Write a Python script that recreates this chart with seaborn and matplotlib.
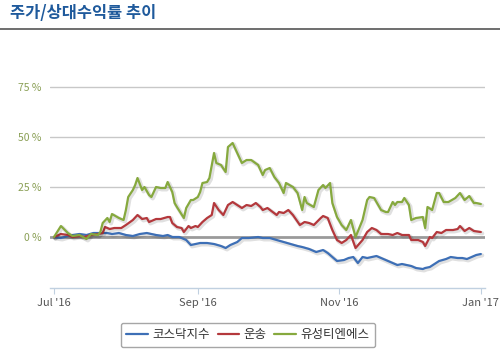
import numpy as np
import pandas as pd
import matplotlib
matplotlib.use("Agg")
import matplotlib.pyplot as plt
import matplotlib.patheffects as pe
import seaborn as sns

# 코스닥지수 (KOSDAQ index), relative return %
kosdaq_dates = ["2016-07-01", "2016-07-04", "2016-07-07", "2016-07-09", "2016-07-12", "2016-07-15",
                "2016-07-18", "2016-07-21", "2016-07-24", "2016-07-26", "2016-07-29", "2016-08-01",
                "2016-08-04", "2016-08-07", "2016-08-10", "2016-08-12", "2016-08-14", "2016-08-17",
                "2016-08-19", "2016-08-21", "2016-08-24", "2016-08-27", "2016-08-29", "2016-08-31",
                "2016-09-02", "2016-09-05", "2016-09-08", "2016-09-11", "2016-09-13", "2016-09-15",
                "2016-09-18", "2016-09-20", "2016-09-23", "2016-09-27", "2016-09-29", "2016-10-02",
                "2016-10-05", "2016-10-08", "2016-10-11", "2016-10-14", "2016-10-16", "2016-10-19",
                "2016-10-22", "2016-10-25", "2016-10-27", "2016-10-29", "2016-10-31", "2016-11-03",
                "2016-11-05", "2016-11-07", "2016-11-09", "2016-11-11", "2016-11-13", "2016-11-15",
                "2016-11-17", "2016-11-19", "2016-11-22", "2016-11-24", "2016-11-26", "2016-11-28",
                "2016-11-30", "2016-12-02", "2016-12-04", "2016-12-07", "2016-12-08", "2016-12-10",
                "2016-12-12", "2016-12-14", "2016-12-17", "2016-12-19", "2016-12-22", "2016-12-24",
                "2016-12-26", "2016-12-28", "2016-12-30", "2017-01-01"]
kosdaq_vals = [0, -0.5, 0.5, 1, 1.5, 1, 2, 2, 2, 1.5, 2, 1,
               0.5, 1.5, 2, 1.5, 1, 0.5, 1, 0, 0, -1.5, -4, -3.5,
               -3, -3, -3.5, -4.5, -5.5, -4, -2.5, -0.5, -0.5, 0, -0.5, -0.5,
               -1.5, -2.5, -3.5, -4.5, -5, -6, -7.5, -6.5, -8, -10, -12, -11.5,
               -10.5, -10, -13, -10, -10.5, -10, -9.5, -10.5, -12, -13, -14, -13.5,
               -14, -14.5, -15.5, -16, -15.5, -15, -13.5, -12, -11, -10, -10.5, -10.5,
               -11, -10, -9, -8.5]

# 운송 (transport sector)
transport_dates = ["2016-07-01", "2016-07-04", "2016-07-07", "2016-07-09", "2016-07-12", "2016-07-14",
                   "2016-07-17", "2016-07-20", "2016-07-22", "2016-07-23", "2016-07-25", "2016-07-27",
                   "2016-07-30", "2016-08-01", "2016-08-04", "2016-08-06", "2016-08-08", "2016-08-10",
                   "2016-08-11", "2016-08-14", "2016-08-16", "2016-08-19", "2016-08-20", "2016-08-21",
                   "2016-08-23", "2016-08-25", "2016-08-26", "2016-08-28", "2016-08-29", "2016-08-31",
                   "2016-09-01", "2016-09-03", "2016-09-05", "2016-09-07", "2016-09-08", "2016-09-10",
                   "2016-09-12", "2016-09-14", "2016-09-16", "2016-09-18", "2016-09-20", "2016-09-22",
                   "2016-09-24", "2016-09-26", "2016-09-28", "2016-09-29", "2016-10-01", "2016-10-05",
                   "2016-10-06", "2016-10-08", "2016-10-10", "2016-10-12", "2016-10-15", "2016-10-17",
                   "2016-10-19", "2016-10-21", "2016-10-24", "2016-10-25", "2016-10-27", "2016-10-29",
                   "2016-10-31", "2016-11-02", "2016-11-04", "2016-11-06", "2016-11-08", "2016-11-11",
                   "2016-11-13", "2016-11-15", "2016-11-17", "2016-11-19", "2016-11-22", "2016-11-24",
                   "2016-11-26", "2016-11-28", "2016-12-01", "2016-12-02", "2016-12-05", "2016-12-07",
                   "2016-12-08", "2016-12-10", "2016-12-11", "2016-12-13", "2016-12-15", "2016-12-17",
                   "2016-12-20", "2016-12-22", "2016-12-23", "2016-12-25", "2016-12-27", "2016-12-29",
                   "2017-01-01"]
transport_vals = [0, 1.5, 1, 0, 0.5, 0, 1, 1.5, 2, 5, 4, 4.5,
                  4.5, 6, 8.5, 11, 9, 9.5, 7.5, 9, 9, 10, 10, 7,
                  5, 4.5, 2.5, 5.5, 4.5, 5.5, 5, 7.5, 9.5, 11, 17, 13.5,
                  11, 16, 17.5, 16, 14.5, 16, 15.5, 17, 15, 13.5, 14.5, 11,
                  12.5, 12, 13.5, 11, 6, 7.5, 7, 6, 9.5, 10.5, 9.5, 3.5,
                  -1.5, -3, -1.5, 1, -5.5, -1.5, 2.5, 4.5, 3.5, 1.5, 1.5, 1,
                  2, 1, 1, -1.5, -1.5, -2.5, -4.5, 0, -0.5, 2.5, 2, 3.5,
                  3.5, 4, 5.5, 3, 4.5, 3, 2.5]

# 유성티엔에스
yusung_dates = ["2016-07-01", "2016-07-04", "2016-07-07", "2016-07-09", "2016-07-12", "2016-07-15",
                "2016-07-17", "2016-07-20", "2016-07-21", "2016-07-22", "2016-07-24", "2016-07-25",
                "2016-07-26", "2016-07-29", "2016-07-31", "2016-08-01", "2016-08-02", "2016-08-04",
                "2016-08-05", "2016-08-06", "2016-08-08", "2016-08-09", "2016-08-11", "2016-08-12",
                "2016-08-14", "2016-08-16", "2016-08-18", "2016-08-19", "2016-08-21", "2016-08-22",
                "2016-08-23", "2016-08-26", "2016-08-27", "2016-08-29", "2016-08-30", "2016-09-01",
                "2016-09-02", "2016-09-03", "2016-09-05", "2016-09-06", "2016-09-08", "2016-09-09",
                "2016-09-11", "2016-09-13", "2016-09-14", "2016-09-16", "2016-09-18", "2016-09-20",
                "2016-09-22", "2016-09-24", "2016-09-27", "2016-09-29", "2016-09-30", "2016-10-02",
                "2016-10-04", "2016-10-06", "2016-10-08", "2016-10-09", "2016-10-12", "2016-10-14",
                "2016-10-16", "2016-10-17", "2016-10-18", "2016-10-21", "2016-10-23", "2016-10-25",
                "2016-10-26", "2016-10-28", "2016-10-29", "2016-10-31", "2016-11-02", "2016-11-04",
                "2016-11-06", "2016-11-08", "2016-11-11", "2016-11-13", "2016-11-14", "2016-11-16",
                "2016-11-19", "2016-11-21", "2016-11-22", "2016-11-24", "2016-11-25", "2016-11-26",
                "2016-11-28", "2016-11-29", "2016-12-01", "2016-12-02", "2016-12-04", "2016-12-07",
                "2016-12-08", "2016-12-09", "2016-12-11", "2016-12-13", "2016-12-14", "2016-12-16",
                "2016-12-18", "2016-12-21", "2016-12-23", "2016-12-25", "2016-12-27", "2016-12-29",
                "2016-12-30", "2017-01-01"]
yusung_vals = [0, 5.5, 2, 0.5, 1, -1, 1.5, 1, 2.5, 7, 9.5, 7.5,
               11.5, 9.5, 8.5, 13.5, 20, 23.5, 26, 29.5, 23.5, 25, 21, 20,
               25, 24.5, 24.5, 27.5, 22.5, 17, 15, 9.5, 14.5, 18.5, 18.5, 20,
               22.5, 27, 27.5, 29.5, 42, 37, 36, 32.5, 45, 47, 42, 37,
               38.5, 38.5, 36, 31, 33.5, 34.5, 30, 27, 22, 27, 25, 22,
               13.5, 20, 17, 15, 23.5, 26, 24.5, 27, 17, 10, 6, 3.5,
               8.5, 0, 8.5, 18.5, 20, 19.5, 13.5, 12.5, 12.5, 17.5, 16, 17.5,
               17.5, 19.5, 16, 8.5, 9.5, 10, 4.5, 15, 13.5, 22, 22, 17.5,
               17.5, 19.5, 22, 18.5, 20.5, 17, 17, 16.5]

series_names = ["코스닥지수", "운송", "유성티엔에스"]
series_colors = ["#3d6fb6", "#b4383c", "#86a93e"]

ytick_vals = [0, 25, 50, 75]
ytick_labels = ["0 %", "25 %", "50 %", "75 %"]
xtick_dates = ["2016-07-01", "2016-09-01", "2016-11-01", "2017-01-01"]
xtick_labels = ["Jul '16", "Sep '16", "Nov '16", "Jan '17"]

frames = []
for name, d, v in [(series_names[0], kosdaq_dates, kosdaq_vals),
                   (series_names[1], transport_dates, transport_vals),
                   (series_names[2], yusung_dates, yusung_vals)]:
    frames.append(pd.DataFrame({"date": pd.to_datetime(d), "value": v, "series": name}))
df = pd.concat(frames, ignore_index=True)

sns.set_style("white")
plt.rcParams["font.family"] = ["Noto Sans CJK KR", "DejaVu Sans"]

fig = plt.figure(figsize=(5, 3.54), dpi=100)
ax = fig.add_axes([0.10, 0.1864, 0.87, 0.6243])

# grid lines like the original
for yv in ytick_vals[1:]:
    ax.axhline(yv, color="#c8c8c8", lw=1, zorder=0)
ax.axhline(0, color="#9a9a9a", lw=2, zorder=1)

shadow = [pe.SimpleLineShadow(offset=(1, -1), shadow_color="#000000", alpha=0.12, linewidth=3), pe.Normal()]
sns.lineplot(data=df, x="date", y="value", hue="series", hue_order=series_names,
             palette=series_colors, linewidth=1.6, ax=ax, legend=False, estimator=None,
             sort=False, zorder=3)
for ln in ax.get_lines()[4:]:
    ln.set_path_effects(shadow)

ax.set_xlim(pd.Timestamp("2016-06-29 07:00"), pd.Timestamp("2017-01-02 19:00"))
ax.set_ylim(-25.5, 85)
ax.set_yticks(ytick_vals)
ax.set_yticklabels(ytick_labels, color="#8a9f55", fontsize=7.5)
ax.set_xticks(pd.to_datetime(xtick_dates))
ax.set_xticklabels(xtick_labels, color="#555555", fontsize=8)
ax.tick_params(axis="y", length=0, pad=6)
ax.tick_params(axis="x", length=4, color="#c0d0e0", pad=3, direction="out", bottom=True)
ax.set_xlabel("")
ax.set_ylabel("")
for s in ["top", "left", "right"]:
    ax.spines[s].set_visible(False)
ax.spines["bottom"].set_color("#c0d0e0")
ax.spines["bottom"].set_linewidth(1)

# title and rule
fig.text(0.02, 0.962, "주가/상대수익률 추이", color="#1f5a9c", fontsize=11.8,
         fontweight="bold", va="center", ha="left")
fig.add_artist(plt.Line2D([0, 1], [0.918, 0.918], color="#555555", lw=1.2))

handles = [plt.Line2D([0], [0], color=c, lw=1.6) for c in series_colors]
leg = fig.legend(handles, series_names, loc="center", bbox_to_anchor=(0.496, 0.054), ncol=3,
                 frameon=True, fancybox=True, fontsize=9, handlelength=1.7, handletextpad=0.4,
                 columnspacing=0.6, borderpad=0.45)
leg.get_frame().set_edgecolor("#909090")
leg.get_frame().set_linewidth(1)
for t in leg.get_texts():
    t.set_color("#333333")

fig.savefig("out.png", dpi=100)
